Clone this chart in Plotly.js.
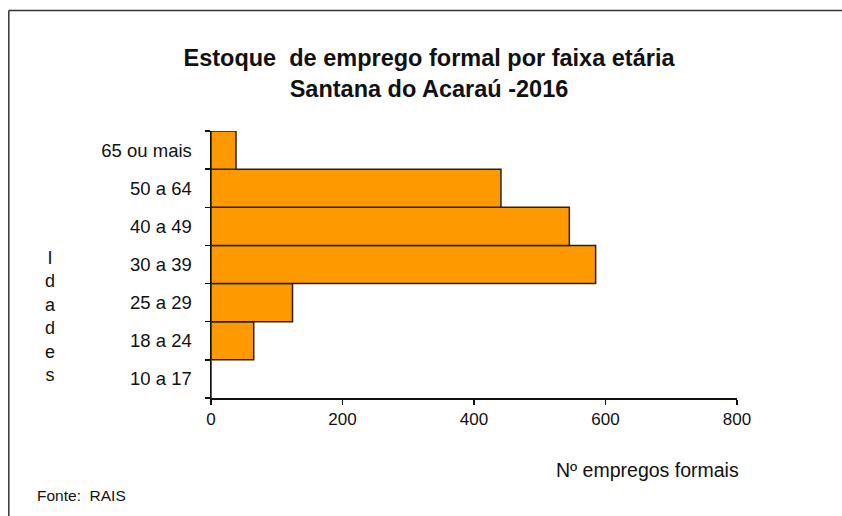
<!DOCTYPE html>
<html>
<head>
<meta charset="utf-8">
<script src="https://cdn.plot.ly/plotly-3.0.1.min.js"></script>
<style>
html,body{margin:0;padding:0;background:#fff;}
#chart{width:842px;height:516px;}
</style>
</head>
<body>
<div id="chart"></div>
<script>
const categories = ["10 a 17", "18 a 24", "25 a 29", "30 a 39", "40 a 49", "50 a 64", "65 ou mais"];
const values = [0, 65, 124, 585, 545, 441, 38];
const xTicks = [0, 200, 400, 600, 800];

const titleText = "Estoque&nbsp; de emprego formal por faixa etária<br>Santana do Acaraú -2016";
const yTitle = "I<br>d<br>a<br>d<br>e<br>s";
const xTitle = "Nº empregos formais";
const source = "Fonte:&nbsp; RAIS";

const font = "Liberation Sans, Arial, sans-serif";

const data = [{
  type: "bar",
  orientation: "h",
  y: categories,
  x: values,
  marker: {color: "#FF9900", line: {color: "#222222", width: 1.5}},
  hoverinfo: "x+y"
}];

const layout = {
  width: 842, height: 516,
  margin: {l: 210.5, r: 104.7, t: 131, b: 118},
  paper_bgcolor: "#fff", plot_bgcolor: "#fff",
  showlegend: false,
  bargap: 0,
  font: {family: font, color: "#111"},
  title: {
    text: titleText,
    font: {family: font, size: 23.5, weight: 700, color: "#111"},
    xref: "container", x: 0.5095, xanchor: "center",
    yref: "container", y: 0.8715, yanchor: "top"
  },
  xaxis: {
    range: [0, 800],
    tickvals: xTicks,
    ticktext: xTicks.map(String),
    showgrid: false, zeroline: false,
    showline: true, linecolor: "#111", linewidth: 1.5,
    ticks: "outside", ticklen: 5, tickwidth: 1.5, tickcolor: "#111",
    tickfont: {size: 17, color: "#111"},
    fixedrange: true
  },
  yaxis: {
    type: "category",
    showgrid: false, zeroline: false,
    showline: true, linecolor: "#111", linewidth: 1.5,
    ticks: "outside", ticklen: 5, tickwidth: 1.5, tickcolor: "#111",
    tickson: "boundaries",
    ticklabelstandoff: 14,
    tickfont: {size: 18.5, color: "#111"},
    fixedrange: true
  },
  annotations: [
    {text: yTitle, xref: "paper", yref: "paper", x: -0.3047, y: 0.3045,
     xanchor: "center", yanchor: "middle", showarrow: false,
     font: {size: 18, color: "#111"}},
    {text: xTitle, xref: "paper", yref: "paper", x: 0.8305, y: -0.2697,
     xanchor: "center", yanchor: "middle", showarrow: false,
     font: {size: 19.5, color: "#111"}},
    {text: source, xref: "paper", yref: "paper", x: -0.335, y: -0.3633,
     xanchor: "left", yanchor: "middle", showarrow: false,
     font: {size: 15.5, color: "#111"}}
  ],
  shapes: [
    {type: "line", xref: "paper", yref: "paper", x0: -0.3844, x1: -0.3844, y0: -0.45, y1: 1.4513,
     line: {color: "#333", width: 1.5}},
    {type: "line", xref: "paper", yref: "paper", x0: -0.3844, x1: 1.21, y0: 1.4513, y1: 1.4513,
     line: {color: "#333", width: 1.5}}
  ]
};

Plotly.newPlot("chart", data, layout, {displayModeBar: false, staticPlot: true});
</script>
</body>
</html>
